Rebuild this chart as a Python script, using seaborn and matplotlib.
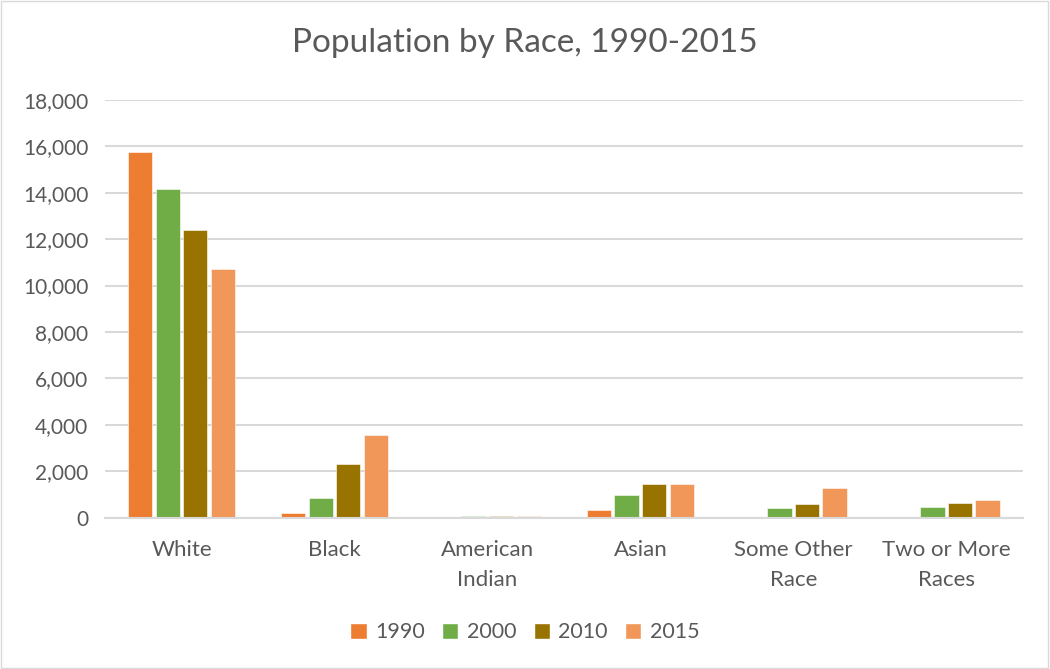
import numpy as np
import pandas as pd
import matplotlib.pyplot as plt
import seaborn as sns
from matplotlib.patches import Patch
from matplotlib.ticker import FuncFormatter

# data
races = ["White", "Black", "American\nIndian", "Asian", "Some Other\nRace", "Two or More\nRaces"]
years = ["1990", "2000", "2010", "2015"]
pop_1990 = [15750, 200, 50, 350, 50, 0]
pop_2000 = [14150, 850, 90, 980, 420, 460]
pop_2010 = [12400, 2330, 70, 1450, 575, 620]
pop_2015 = [10690, 3580, 70, 1450, 1290, 760]
colors = ["#ED7D31", "#70AD47", "#997300", "#F1975A"]

df = pd.DataFrame({
    "Race": races * 4,
    "Year": np.repeat(years, len(races)),
    "Population": pop_1990 + pop_2000 + pop_2010 + pop_2015,
})

sns.set_style("white")
plt.rcParams["font.family"] = ["Lato", "DejaVu Sans"]

fig = plt.figure(figsize=(10.5, 6.69), dpi=100)
ax = fig.add_axes([0.1, 0.226, 0.874, 0.625])

sns.barplot(data=df, x="Race", y="Population", hue="Year", palette=colors,
            saturation=1, width=0.72, gap=0.12, edgecolor="white", linewidth=0.4,
            ax=ax, legend=False)

ax.set_ylim(0, 18000)
ax.set_yticks(range(0, 18001, 2000))
ax.yaxis.set_major_formatter(FuncFormatter(lambda v, p: f"{int(v):,}"))
ax.grid(axis="y", color="#D9D9D9", linewidth=1.5)
ax.set_axisbelow(True)
for s in ["top", "right", "left"]:
    ax.spines[s].set_visible(False)
ax.spines["bottom"].set_color("#D9D9D9")
ax.spines["bottom"].set_linewidth(1.5)
ax.tick_params(axis="y", length=0, labelsize=15, labelcolor="#595959", pad=12)
ax.tick_params(axis="x", length=0, labelsize=16, labelcolor="#595959", pad=16)
for t in ax.get_xticklabels():
    t.set_linespacing(1.6)
ax.set_xlabel("")
ax.set_ylabel("")

fig.suptitle("Population by Race, 1990-2015", y=0.958, fontsize=24, color="#595959")

handles = [Patch(facecolor=c, label=y) for c, y in zip(colors, years)]
fig.legend(handles=handles, loc="center", bbox_to_anchor=(0.5, 0.055), ncol=4,
           frameon=False, fontsize=15.5, handlelength=0.75, handleheight=0.75,
           columnspacing=0.8, handletextpad=0.4, labelcolor="#595959")

# light border around the chart area
fig.patches.append(plt.Rectangle((0.001, 0.001), 0.997, 0.997, transform=fig.transFigure,
                                 fill=False, edgecolor="#D9D9D9", linewidth=1))

fig.savefig("out.png", dpi=100)
